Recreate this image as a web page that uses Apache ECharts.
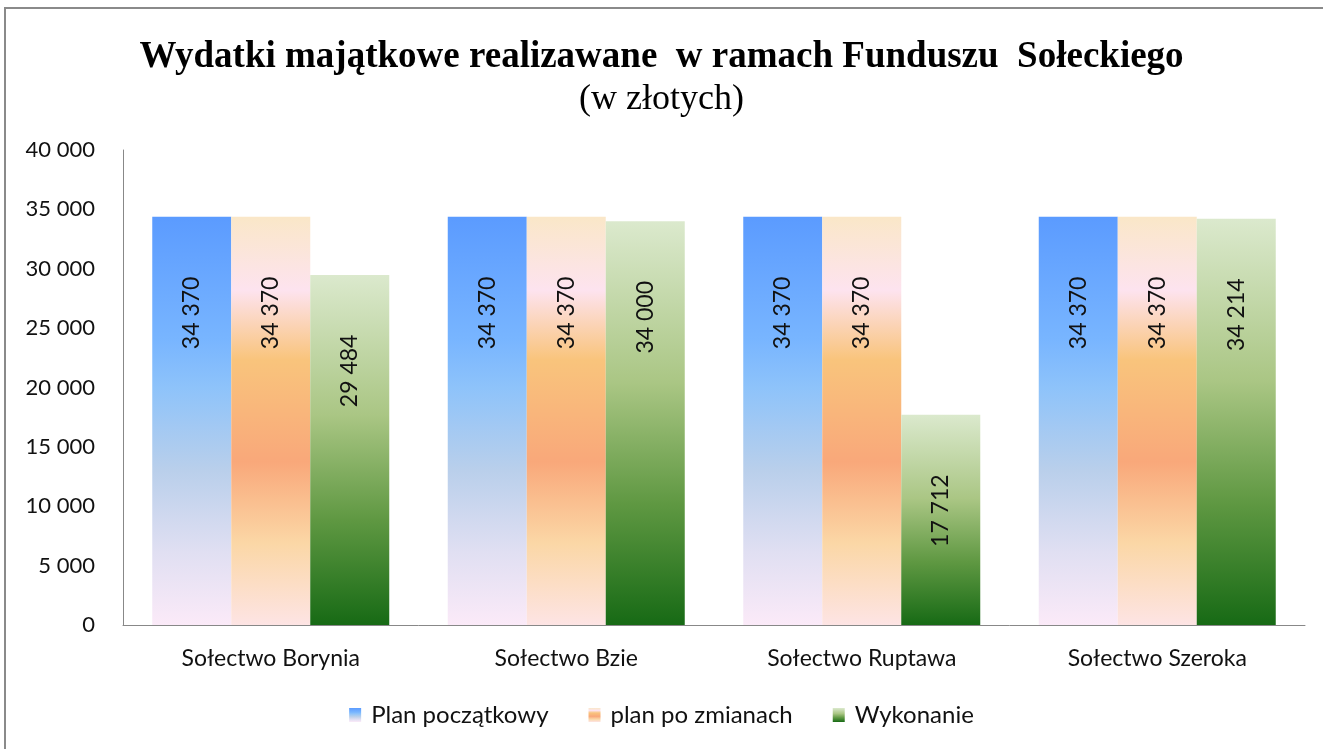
<!DOCTYPE html>
<html>
<head>
<meta charset="utf-8">
<script src="https://cdn.jsdelivr.net/npm/echarts@6/dist/echarts.min.js"></script>
<style>
  html, body { margin: 0; padding: 0; background: #fff; }
  #chart { width: 1323px; height: 749px; }
</style>
</head>
<body>
<div id="chart"></div>
<script>
var categories = ['Sołectwo Borynia', 'Sołectwo Bzie', 'Sołectwo Ruptawa', 'Sołectwo Szeroka'];
var seriesNames = ['Plan początkowy', 'plan po zmianach', 'Wykonanie'];
var planPoczatkowy = [34370, 34370, 34370, 34370];
var planPoZmianach = [34370, 34370, 34370, 34370];
var wykonanie = [29484, 34000, 17712, 34214];
var yMin = 0, yMax = 40000, yStep = 5000;

function fmt(v){
  return String(v).replace(/\B(?=(\d{3})+(?!\d))/g, ' ');
}

function grad(stops){
  return new echarts.graphic.LinearGradient(0, 0, 0, 1, stops.map(function(s){ return {offset: s[0], color: s[1]}; }));
}

var blueFill = grad([[0, '#5b9bff'], [0.3, '#78b5ff'], [0.42, '#8ec3fa'], [0.62, '#b9cfeb'], [0.82, '#e0dff2'], [1, '#fbeaf8']]);
var orangeFill = grad([[0, '#fae7c8'], [0.18, '#fde3ef'], [0.35, '#f9c47c'], [0.6, '#f9a87a'], [0.8, '#fbd7a6'], [1, '#fde4e4']]);
var greenFill = grad([[0, '#dbe9cd'], [0.4, '#aac684'], [0.7, '#5f9842'], [1, '#176a15']]);

var font = 'Lato, "Open Sans", sans-serif';

var labelCfg = {
  show: true,
  position: ['50%', 96],
  rotate: 90,
  align: 'center',
  verticalAlign: 'middle',
  fontFamily: font,
  fontSize: 23,
  color: '#111',
  formatter: function(p){ return fmt(p.value); }
};

var myChart = echarts.init(document.getElementById('chart'));
option = {
  backgroundColor: '#fff',
  animation: false,
  title: {
    text: 'Wydatki majątkowe realizawane  w ramach Funduszu  Sołeckiego',
    subtext: '(w złotych)',
    left: 'center',
    top: 34,
    itemGap: 6,
    textStyle: {fontFamily: '"Liberation Serif", serif', fontWeight: 'bold', fontSize: 37, color: '#000'},
    subtextStyle: {fontFamily: '"Liberation Serif", serif', fontSize: 36, color: '#000'}
  },
  graphic: [{
    type: 'rect',
    shape: {x: 5, y: 8, width: 1340, height: 770},
    style: {fill: 'none', stroke: '#8a8a8a', lineWidth: 2},
    silent: true
  }],
  legend: {
    data: seriesNames,
    bottom: 17,
    left: 'center',
    icon: 'rect',
    itemWidth: 12,
    itemHeight: 14,
    itemGap: 40,
    textStyle: {fontFamily: font, fontSize: 24, color: '#111', padding: [0, 0, 0, 5]}
  },
  grid: {
    left: 123,
    right: 18,
    top: 150,
    bottom: 124
  },
  xAxis: {
    type: 'category',
    data: categories,
    axisLine: {lineStyle: {color: '#888', width: 1}},
    axisTick: {show: false},
    axisLabel: {margin: 22, fontFamily: font, fontSize: 23, color: '#111'}
  },
  yAxis: {
    type: 'value',
    min: yMin,
    max: yMax,
    interval: yStep,
    axisLine: {show: true, lineStyle: {color: '#888', width: 1}},
    axisTick: {show: false},
    splitLine: {show: false},
    axisLabel: {margin: 28, fontFamily: font, fontSize: 22, color: '#111', formatter: function(v){ return fmt(v); }}
  },
  series: [
    {name: seriesNames[0], type: 'bar', data: planPoczatkowy, barWidth: 79, barGap: '0%', itemStyle: {color: blueFill}, label: labelCfg},
    {name: seriesNames[1], type: 'bar', data: planPoZmianach, barWidth: 79, barGap: '0%', itemStyle: {color: orangeFill}, label: labelCfg},
    {name: seriesNames[2], type: 'bar', data: wykonanie, barWidth: 79, barGap: '0%', itemStyle: {color: greenFill}, label: labelCfg}
  ]
};
myChart.setOption(option);
</script>
</body>
</html>
